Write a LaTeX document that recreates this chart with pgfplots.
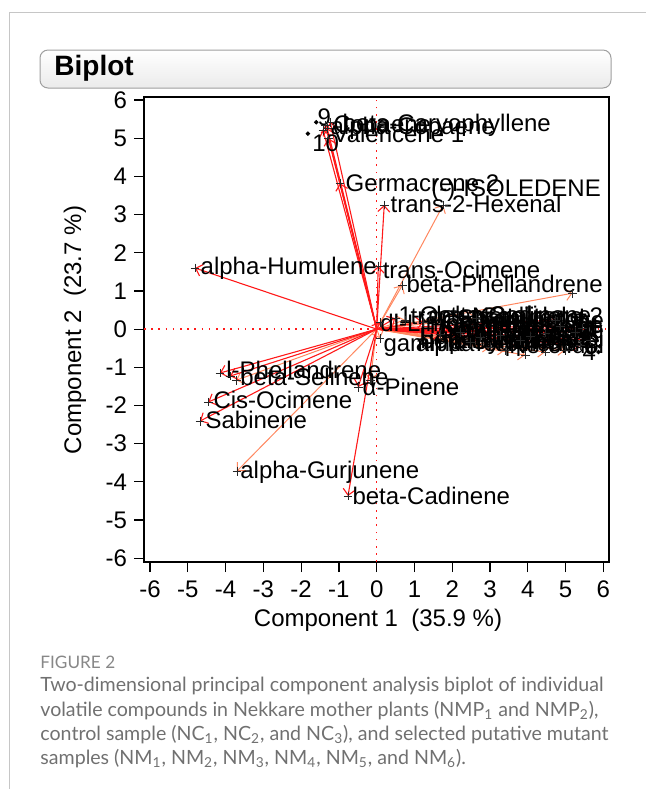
\documentclass[border=0pt]{standalone}
\usepackage{pgfplots}
\pgfplotsset{compat=1.18}
\usepackage{pgfplotstable}
\usepackage{fontspec}
\setmainfont{Liberation Sans}
\newfontfamily\capfont{Lato}
\usetikzlibrary{arrows.meta}
\definecolor{arrred}{RGB}{255,25,25}
\definecolor{arrcoral}{RGB}{255,135,95}
\definecolor{capgray}{RGB}{112,112,112}
\definecolor{figgray}{RGB}{135,135,135}

% arrow tips (red)
\pgfplotstableread[col sep=semicolon]{
o;x;y
0;-1.36;5.34
0;-1.31;5.26
0;-1.42;5.21
0;-1.23;5.42
0;-1.28;5.00
0;-0.97;3.82
0;0.20;3.25
0;-4.81;1.60
0;0.04;1.65
0;0.09;0.18
0;0.49;0.29
0;1.23;0.18
0;5.44;0.03
0;5.26;-0.08
0;4.86;0.08
0;4.46;-0.10
0;4.07;-0.18
0;3.80;-0.29
0;3.27;-0.16
0;2.74;-0.21
0;2.21;-0.08
0;1.68;-0.13
0;5.66;-0.29
0;5.39;-0.42
0;4.73;0.24
0;-4.15;-1.15
0;-3.88;-1.23
0;-4.46;-1.91
0;-4.68;-2.41
0;-0.49;-1.52
0;-0.76;-4.37
}\redtips

% arrow tips (coral)
\pgfplotstableread[col sep=semicolon]{
o;x;y
0;1.76;3.25
0;0.68;1.15
0;5.18;0.94
0;0.75;0.24
0;0.09;-0.24
0;2.64;0.29
0;4.99;-0.55
0;4.46;-0.60
0;3.93;-0.68
0;3.40;-0.55
0;3.00;-0.47
0;2.48;-0.34
0;-3.72;-1.34
0;-3.70;-3.72
0;-0.17;-1.34
}\coraltips

% variable labels, left edge at (x,y)
\pgfplotstableread[col sep=semicolon]{
x;y;label
-0.91;5.34;beta-Caryophyllene
-1.15;5.31;Copaene
-1.23;5.26;alpha-Copaene
-1.18;5.10;Valencene 1
-0.83;3.82;Germacrene 2
0.36;3.27;trans-2-Hexenal
1.44;3.64;(-)-ISOLEDENE
-4.67;1.60;alpha-Humulene
0.15;1.56;trans-Ocimene
0.78;1.18;beta-Phellandrene
0.09;0.16;dl-Limonene
0.57;0.37;1-Octen-3-ol
0.89;0.34;trans-Nerolidol
1.36;0.36;delta-Cadinene
0.17;-0.42;gamma-Terpinene
-3.99;-1.07;l-Phellandrene
-3.62;-1.26;beta-Selinene
-4.33;-1.86;Cis-Ocimene
-4.54;-2.38;Sabinene
-0.38;-1.52;α-Pinene
-3.62;-3.74;alpha-Gurjunene
-0.65;-4.37;beta-Cadinene
}\varlabels

% variable labels in the right cluster, right edge at (x,y)
\pgfplotstableread[col sep=semicolon]{
x;y;label
6.00;0.34;Cadinene 2
6.00;0.10;Humulene oxide
5.66;-0.03;beta-Elemene
6.03;-0.10;Myrcene
5.26;-0.18;Camphene
5.92;-0.29;Linalool oxide
4.86;-0.37;p-Cymene
6.03;0.18;Terpinolene
4.46;0.03;Limonene
6.03;-0.42;Nerolidol
4.07;-0.24;Eucalyptol
5.52;0.24;Spathulenol
5.80;-0.03;Germacrene D
6.03;-0.24;Elemol
5.87;0.03;Geraniol
5.39;-0.42;alpha-Terpineol
4.99;0.18;Cadinene 1
4.60;-0.29;beta-Pinene
}\rightlabels

% sample scores
\pgfplotstableread[col sep=semicolon]{
x;y;label
-1.60;5.42;9
}\sampleA
\pgfplotstableread[col sep=semicolon]{
x;y;label
-1.82;5.12;10
}\sampleB
\pgfplotstableread[col sep=semicolon]{
x;y;label
5.75;-0.10;1
5.82;-0.30;2
5.70;0.08;3
5.87;-0.60;4
5.60;-0.20;5
5.90;-0.45;6
5.65;0.18;7
5.55;-0.05;8
5.80;-0.20;11
}\rightsamples

\begin{document}
\begin{tikzpicture}
\useasboundingbox (0,0) rectangle (323pt,-394.5pt);
\begin{scope}[x=0.5pt,y=-0.5pt]
  \draw[gray!45, line width=0.5pt] (9,789) -- (9,12) -- (646,12);
  \draw[rounded corners=4pt, draw=gray!75, line width=0.5pt, top color=white, bottom color=gray!16] (40,50) rectangle (611,88);
  \node[anchor=west, font=\bfseries\fontsize{14}{14}\selectfont, inner sep=0pt] at (54,68) {Biplot};
  \node[rotate=90, font=\fontsize{12}{12}\selectfont] at (75,330) {Component 2\ \ (23.7 \%)};
  \node[font=\fontsize{12}{12}\selectfont] at (378,620) {Component 1\ \ (35.9 \%)};
  \node[anchor=west, inner sep=0pt, font=\capfont\fontsize{8.6}{9}\selectfont, text=figgray] at (40,662) {FIGURE 2};
  \begin{scope}[every node/.style={anchor=west, inner sep=0pt, font=\capfont\fontsize{9.8}{11}\selectfont, text=capgray}]
    \node at (40,686) {Two-dimensional principal component analysis biplot of individual};
    \node at (40,711) {volatile compounds in Nekkare mother plants (NMP\textsubscript{1} and NMP\textsubscript{2}),};
    \node at (40,735) {control sample (NC\textsubscript{1}, NC\textsubscript{2}, and NC\textsubscript{3}), and selected putative mutant};
    \node at (40,759) {samples (NM\textsubscript{1}, NM\textsubscript{2}, NM\textsubscript{3}, NM\textsubscript{4}, NM\textsubscript{5}, and NM\textsubscript{6}).};
  \end{scope}
\end{scope}
\begin{axis}[
  at={(72pt,-281pt)}, anchor=south west,
  width=232.5pt, height=232.5pt, scale only axis,
  xmin=-6.16, xmax=6.15, ymin=-6.1, ymax=6.08,
  xtick={-6,...,6}, ytick={-6,...,6},
  tick pos=left, tick align=outside,
  major tick length=5pt,
  tick style={black, line width=0.6pt},
  axis line style={black, line width=0.8pt},
  ticklabel style={font=\fontsize{12}{12}\selectfont},
  /pgf/number format/assume math mode=true,
  xticklabel style={yshift=-1pt},
  clip=true,
]
\addplot[arrred, line width=0.8pt, dash pattern=on 0.8pt off 2.8pt] coordinates {(0,-6.1) (0,6.08)};
\addplot[arrred, line width=0.8pt, dash pattern=on 0.8pt off 2.8pt] coordinates {(-6.16,0) (6.15,0)};
% labels first, arrows drawn over them
\addplot[only marks, mark=none, nodes near coords, point meta=explicit symbolic,
  nodes near coords style={anchor=west, inner sep=0pt, xshift=0.5pt, yshift=2.5pt, font=\fontsize{12}{12}\selectfont, text=black}]
  table[x=x, y=y, meta=label] {\sampleA};
\addplot[only marks, mark=none, nodes near coords, point meta=explicit symbolic,
  nodes near coords style={anchor=west, inner sep=0pt, xshift=2pt, yshift=-5pt, font=\fontsize{12}{12}\selectfont, text=black}]
  table[x=x, y=y, meta=label] {\sampleB};
\addplot[only marks, mark=none, nodes near coords, point meta=explicit symbolic,
  nodes near coords style={anchor=east, inner sep=0pt, xshift=-1pt, font=\fontsize{12}{12}\selectfont, text=black}]
  table[x=x, y=y, meta=label] {\rightsamples};
\addplot[only marks, mark=none, nodes near coords, point meta=explicit symbolic,
  nodes near coords style={anchor=west, inner sep=0pt, font=\fontsize{12}{12}\selectfont, text=black}]
  table[x=x, y=y, meta=label] {\varlabels};
\addplot[only marks, mark=none, nodes near coords, point meta=explicit symbolic,
  nodes near coords style={anchor=east, inner sep=0pt, font=\fontsize{12}{12}\selectfont, text=black}]
  table[x=x, y=y, meta=label] {\rightlabels};
\addplot[arrcoral, line width=0.5pt, quiver={u=\thisrow{x}, v=\thisrow{y}}, -{Straight Barb[length=3pt,width=6pt]}] table[x=o, y=o] {\coraltips};
\addplot[arrred, line width=0.55pt, quiver={u=\thisrow{x}, v=\thisrow{y}}, -{Straight Barb[length=3pt,width=6pt]}] table[x=o, y=o] {\redtips};
\addplot[only marks, mark=+, mark size=2.2pt, black!85, line width=0.4pt] table[x=x, y=y] {\redtips};
\addplot[only marks, mark=+, mark size=2.2pt, black!85, line width=0.4pt] table[x=x, y=y] {\coraltips};
\addplot[only marks, mark=*, mark size=0.9pt, black] table[x=x, y=y] {\sampleA};
\addplot[only marks, mark=*, mark size=0.9pt, black] table[x=x, y=y] {\sampleB};
\addplot[only marks, mark=*, mark size=0.9pt, black] table[x=x, y=y] {\rightsamples};
\end{axis}
\end{tikzpicture}
\end{document}
